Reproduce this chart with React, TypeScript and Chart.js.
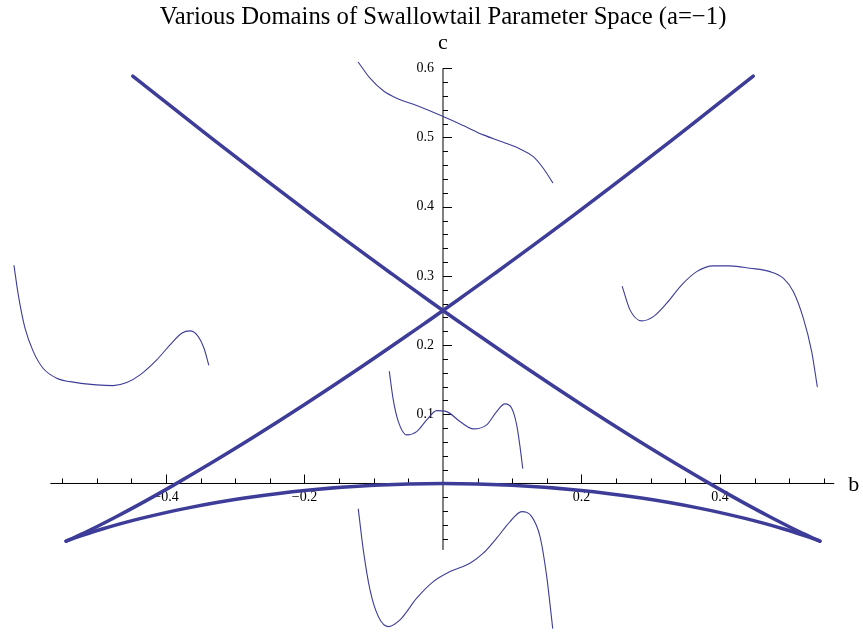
import { useEffect, useRef } from "react";
import { Chart, registerables } from "chart.js";

Chart.register(...registerables);

// ---- Data (b = horizontal parameter, c = vertical parameter) ----
// Bifurcation set (thick curve) in three branches
// branch 1: from top-right end down to the left cusp
const bifUpperAB = [0.448, 0.3119, 0.1875, 0.0743, 0, -0.028, -0.1198, -0.2015, -0.2734, -0.336, -0.3896, -0.4345, -0.4712, -0.5, -0.5213, -0.5355, -0.542, -0.5443];
const bifUpperAC = [0.5888, 0.4816, 0.3867, 0.3032, 0.25, 0.2303, 0.1672, 0.113, 0.0671, 0.0288, -0.0027, -0.028, -0.0477, -0.0625, -0.0729, -0.0795, -0.0823, -0.0833];
// branch 2: lower arc from left cusp through the origin to right cusp
const bifLowerB = [-0.5443, -0.5427, -0.5285, -0.492, -0.4375, -0.368, -0.2865, -0.196, -0.0995, 0, 0.0995, 0.196, 0.2865, 0.368, 0.4375, 0.492, 0.5285, 0.5427, 0.5443];
const bifLowerC = [-0.0833, -0.0827, -0.0775, -0.0657, -0.0508, -0.0352, -0.021, -0.0097, -0.0025, 0, -0.0025, -0.0097, -0.021, -0.0352, -0.0508, -0.0657, -0.0775, -0.0827, -0.0833];
// branch 3: from right cusp up to the top-left end
const bifUpperBB = [0.5443, 0.542, 0.5355, 0.5213, 0.5, 0.4712, 0.4345, 0.3896, 0.336, 0.2734, 0.2015, 0.1198, 0.028, 0, -0.0743, -0.1875, -0.3119, -0.448];
const bifUpperBC = [-0.0833, -0.0823, -0.0795, -0.0729, -0.0625, -0.0477, -0.028, -0.0027, 0.0288, 0.0671, 0.113, 0.1672, 0.2303, 0.25, 0.3032, 0.3867, 0.4816, 0.5888];

// Thin potential sketches in each domain
const topB = [-0.1223, -0.1054, -0.0862, -0.0669, -0.038, 0.0004, 0.0293, 0.0582, 0.0871, 0.1112, 0.1304, 0.1448, 0.1584];
const topC = [0.6088, 0.5857, 0.5675, 0.5568, 0.5461, 0.5302, 0.5172, 0.5038, 0.4932, 0.4835, 0.4724, 0.4556, 0.4348];

const leftB = [-0.6195, -0.6133, -0.6036, -0.5916, -0.5772, -0.5578, -0.5289, -0.5001, -0.4761, -0.4567, -0.4375, -0.4134, -0.3942, -0.3773, -0.3653, -0.3534, -0.3451, -0.3383];
const leftC = [0.3149, 0.2725, 0.2244, 0.1906, 0.1662, 0.1522, 0.1458, 0.1425, 0.1415, 0.1458, 0.1569, 0.1786, 0.2003, 0.2172, 0.2205, 0.2123, 0.1955, 0.1714];

const midB = [-0.0775, -0.0718, -0.0645, -0.0524, -0.038, -0.0235, -0.0091, 0.0053, 0.0245, 0.0438, 0.0631, 0.0775, 0.0895, 0.0992, 0.1064, 0.1112, 0.1151];
const midC = [0.1617, 0.1208, 0.0895, 0.0702, 0.075, 0.0919, 0.1053, 0.1039, 0.0895, 0.0789, 0.0847, 0.1039, 0.115, 0.1088, 0.0847, 0.0533, 0.0221];

const bottomB = [-0.1223, -0.1151, -0.1054, -0.0934, -0.079, -0.0621, -0.038, -0.014, 0.0101, 0.039, 0.0582, 0.0775, 0.0968, 0.1136, 0.1281, 0.1401, 0.1498, 0.1584];
const bottomC = [-0.0371, -0.096, -0.1538, -0.1923, -0.2068, -0.1971, -0.1658, -0.1418, -0.1273, -0.1152, -0.1007, -0.079, -0.0551, -0.0406, -0.0478, -0.0767, -0.1345, -0.2091];

const rightB = [0.2589, 0.27, 0.2869, 0.3037, 0.323, 0.3447, 0.3663, 0.3903, 0.4144, 0.4433, 0.4722, 0.4914, 0.5058, 0.5203, 0.5324, 0.5405];
const rightC = [0.2845, 0.2509, 0.235, 0.2412, 0.2605, 0.287, 0.3062, 0.3145, 0.3145, 0.3111, 0.3062, 0.2967, 0.2773, 0.2389, 0.1906, 0.14];

// Axes ticks and labels
const xMajorTicks = [-0.4, -0.2, 0.2, 0.4];
const xMajorLabels = ["\u22120.4", "\u22120.2", "0.2", "0.4"];
const xMinorTicks = [-0.55, -0.5, -0.45, -0.35, -0.3, -0.25, -0.15, -0.1, -0.05, 0.05, 0.1, 0.15, 0.25, 0.3, 0.35, 0.45, 0.5, 0.55];
const yMajorTicks = [0.1, 0.2, 0.3, 0.4, 0.5, 0.6];
const yMajorLabels = ["0.1", "0.2", "0.3", "0.4", "0.5", "0.6"];
const yMinorTicks = [-0.08, -0.06, -0.04, -0.02, 0.02, 0.04, 0.06, 0.08, 0.12, 0.14, 0.16, 0.18, 0.22, 0.24, 0.26, 0.28, 0.32, 0.34, 0.36, 0.38, 0.42, 0.44, 0.46, 0.48, 0.52, 0.54, 0.56, 0.58];
const xAxisRange = [-0.567, 0.565];
const yAxisRange = [-0.096, 0.6];

const TITLE = "Various Domains of Swallowtail Parameter Space (a=\u22121)";
const X_LABEL = "b";
const Y_LABEL = "c";

const CURVE_COLOR = "rgb(61,61,153)";
const SERIF = '"Liberation Serif", "Times New Roman", serif';

const pts = (bs: number[], cs: number[]) => bs.map((b, i) => ({ x: b, y: cs[i] }));

const axesPlugin = {
  id: "mathAxes",
  beforeDatasetsDraw(chart: any) {
    const { ctx } = chart;
    const xs = chart.scales.x;
    const ys = chart.scales.y;
    const x0 = xs.getPixelForValue(0);
    const y0 = ys.getPixelForValue(0);
    ctx.save();
    ctx.strokeStyle = "#000";
    ctx.lineWidth = 1;
    // x axis line
    ctx.beginPath();
    ctx.moveTo(xs.getPixelForValue(xAxisRange[0]), y0);
    ctx.lineTo(xs.getPixelForValue(xAxisRange[1]), y0);
    ctx.stroke();
    // y axis line
    ctx.beginPath();
    ctx.moveTo(x0, ys.getPixelForValue(yAxisRange[0]));
    ctx.lineTo(x0, ys.getPixelForValue(yAxisRange[1]));
    ctx.stroke();
    // x ticks (upwards)
    const xt = (v: number, len: number) => {
      const px = Math.round(xs.getPixelForValue(v)) + 0.5;
      ctx.beginPath();
      ctx.moveTo(px, y0);
      ctx.lineTo(px, y0 - len);
      ctx.stroke();
    };
    xMinorTicks.forEach((v) => xt(v, 5));
    xMajorTicks.forEach((v) => xt(v, 9));
    // y ticks (rightwards)
    const yt = (v: number, len: number) => {
      const py = Math.round(ys.getPixelForValue(v)) + 0.5;
      ctx.beginPath();
      ctx.moveTo(x0, py);
      ctx.lineTo(x0 + len, py);
      ctx.stroke();
    };
    yMinorTicks.forEach((v) => yt(v, 5));
    yMajorTicks.forEach((v) => yt(v, 9));
    // tick labels
    ctx.fillStyle = "#000";
    ctx.font = `14px ${SERIF}`;
    ctx.textAlign = "center";
    ctx.textBaseline = "middle";
    xMajorTicks.forEach((v, i) => {
      ctx.fillText(xMajorLabels[i], xs.getPixelForValue(v), y0 + 14);
    });
    ctx.textAlign = "right";
    yMajorTicks.forEach((v, i) => {
      ctx.fillText(yMajorLabels[i], x0 - 9, ys.getPixelForValue(v));
    });
    // axis labels
    ctx.font = `22px ${SERIF}`;
    ctx.textBaseline = "alphabetic";
    ctx.textAlign = "left";
    ctx.fillText(X_LABEL, xs.getPixelForValue(xAxisRange[1]) + 14, y0 + 8);
    ctx.textAlign = "center";
    ctx.fillText(Y_LABEL, x0, ys.getPixelForValue(yAxisRange[1]) - 19);
    // title
    ctx.font = `20px ${SERIF}`;
    const w = ctx.measureText(TITLE).width;
    const size = (20 * 567) / w;
    ctx.font = `${size.toFixed(2)}px ${SERIF}`;
    ctx.fillText(TITLE, 443, 24);
    ctx.restore();
  },
};

export default function App() {
  const ref = useRef<HTMLCanvasElement>(null);
  useEffect(() => {
    document.body.style.margin = "0";
    const line = (bs: number[], cs: number[], width: number, monotone: boolean) => ({
      data: pts(bs, cs),
      showLine: true,
      borderColor: CURVE_COLOR,
      backgroundColor: CURVE_COLOR,
      borderWidth: width,
      borderCapStyle: "round" as const,
      borderJoinStyle: "round" as const,
      pointRadius: 0,
      tension: 0.4,
      cubicInterpolationMode: (monotone ? "monotone" : "default") as any,
      clip: false as any,
    });
    const chart = new Chart(ref.current!, {
      type: "scatter",
      data: {
        datasets: [
          line(bifUpperAB, bifUpperAC, 3.5, false),
          line(bifLowerB, bifLowerC, 3.5, false),
          line(bifUpperBB, bifUpperBC, 3.5, false),
          line(topB, topC, 1.1, true),
          line(leftB, leftC, 1.1, true),
          line(midB, midC, 1.1, true),
          line(bottomB, bottomC, 1.1, true),
          line(rightB, rightC, 1.1, true),
        ],
      },
      options: {
        animation: false,
        responsive: false,
        devicePixelRatio: 1,
        layout: { padding: 0 },
        plugins: { legend: { display: false }, title: { display: false }, tooltip: { enabled: false } },
        events: [],
        scales: {
          x: { type: "linear", min: -0.63971, max: 0.6065, display: false },
          y: { type: "linear", min: -0.2146, max: 0.6987, display: false },
        },
      },
      plugins: [axesPlugin],
    });
    return () => chart.destroy();
  }, []);
  return (
    <div style={{ position: "absolute", left: 0, top: 0, width: 863, height: 632, background: "#fff" }}>
      <canvas ref={ref} width={863} height={632} style={{ display: "block" }} />
    </div>
  );
}
